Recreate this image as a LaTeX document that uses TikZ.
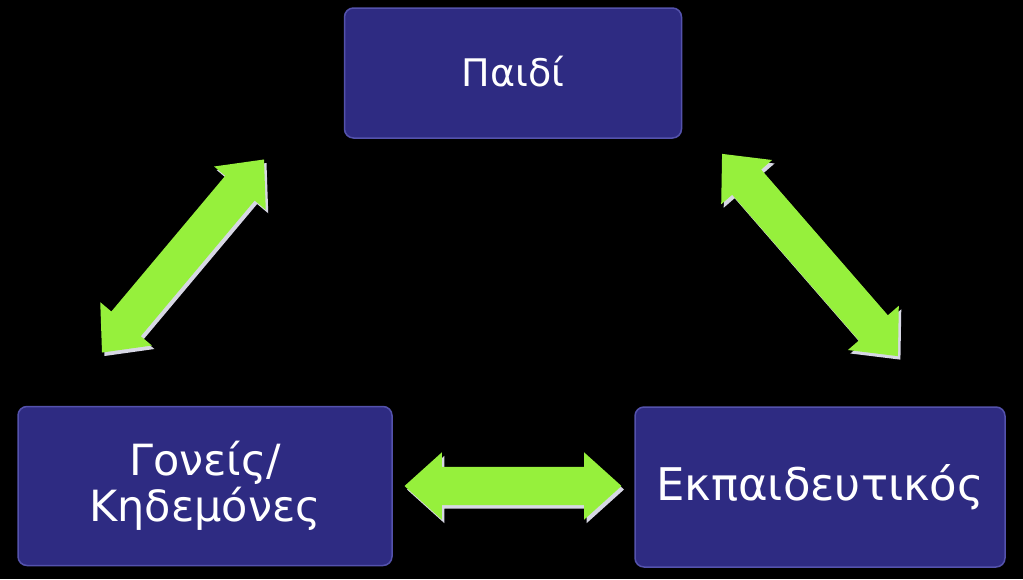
\documentclass[tikz,border=0pt]{standalone}
\usepackage{fontspec}
\setmainfont{DejaVu Sans}
\usetikzlibrary{shapes.arrows,shadows}

\definecolor{boxblue}{RGB}{46,43,130}
\definecolor{boxedge}{RGB}{84,82,172}
\definecolor{linkgreen}{RGB}{150,240,60}
\definecolor{linkshade}{RGB}{215,215,228}

\begin{document}
\begin{tikzpicture}[x=1pt,y=-1pt,
  rolebox/.style={rectangle, rounded corners=9pt, fill=boxblue, draw=boxedge,
    line width=1.5pt, text=white, align=center, inner sep=0pt},
  linkarrow/.style={double arrow, fill=linkgreen, inner xsep=0pt, inner ysep=19pt,
    minimum width=0pt, double arrow head extend=14.5pt,
    double arrow tip angle=84,
    drop shadow={shadow xshift=2.5pt, shadow yshift=-3.5pt, fill=linkshade, opacity=1}}]
%background
\fill[black] (0,0) rectangle (1023,579);
\useasboundingbox (0,0) rectangle (1023,579);

%boxes
\node[rolebox, minimum width=337pt, minimum height=130pt,
  font=\fontsize{38}{40}\selectfont] (child) at (513,73) {\raisebox{3pt}{Παιδί}};
\node[rolebox, minimum width=374pt, minimum height=159pt,
  font=\fontsize{43}{46}\selectfont] (parents) at (205,486) {Γονείς/\\Κηδεμόνες};
\node[rolebox, minimum width=370pt, minimum height=160pt,
  font=\fontsize{45}{46}\selectfont] (teacher) at (820,487) {Εκπαιδευτικός};

%arrows
\node[linkarrow, minimum height=252pt, rotate=50] (pc) at (183,256) {};
\node[linkarrow, minimum height=268pt, rotate=-49] (ct) at (810,255) {};
\node[linkarrow, minimum height=217pt] (pt) at (513,486) {};

\end{tikzpicture}
\end{document}
